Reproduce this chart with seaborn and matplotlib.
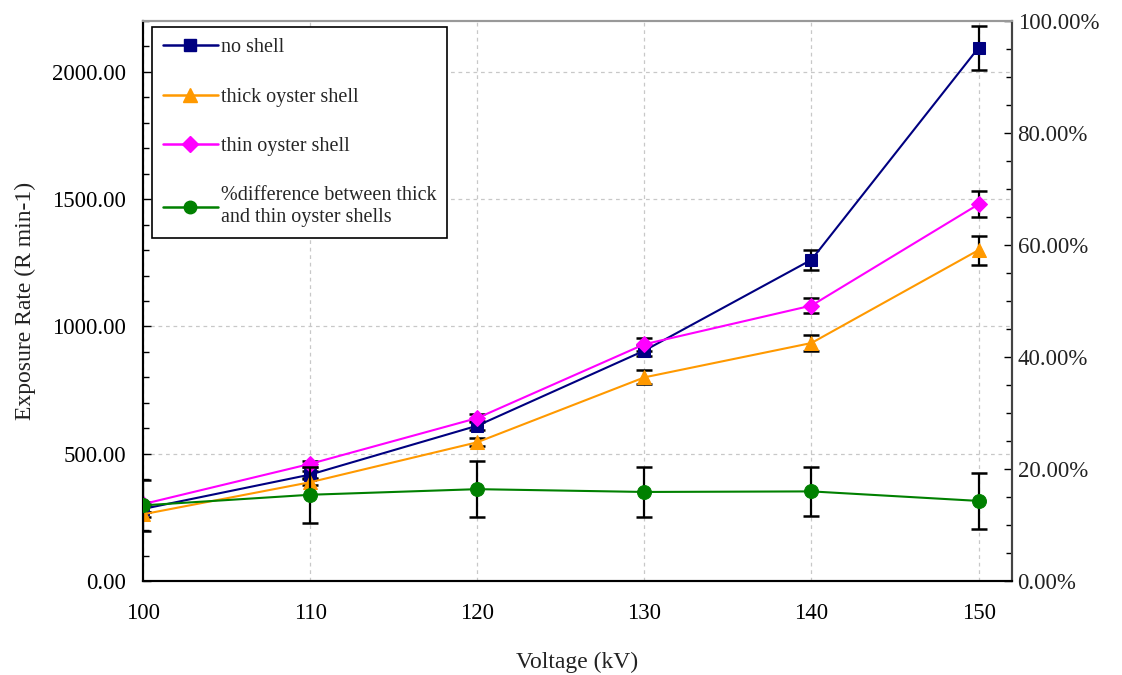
import matplotlib
matplotlib.use("Agg")
import matplotlib.pyplot as plt
import seaborn as sns
import pandas as pd
import numpy as np
from matplotlib.ticker import MultipleLocator, FuncFormatter

voltage = [100, 110, 120, 130, 140, 150]
no_shell = [283, 418, 610, 905, 1262, 2095]
no_shell_err = [10, 15, 18, 22, 40, 87]
thick_shell = [262, 388, 545, 800, 935, 1300]
thick_shell_err = [10, 12, 15, 28, 30, 57]
thin_shell = [302, 460, 640, 930, 1082, 1480]
thin_shell_err = [8, 12, 15, 25, 31, 51]
pct_diff = [0.135, 0.154, 0.164, 0.159, 0.160, 0.143]
pct_diff_err = [0.046, 0.050, 0.050, 0.044, 0.044, 0.050]

labels = ["no shell", "thick oyster shell", "thin oyster shell",
          "%difference between thick\nand thin oyster shells"]
colors = ["#000080", "#FF9900", "#FF00FF", "#008000"]
markers = ["s", "^", "D", "o"]

sns.set_theme(style="white")
plt.rcParams['font.family'] = ['Liberation Serif', 'DejaVu Serif']

fig = plt.figure(figsize=(11.22, 6.75), dpi=100)
ax = fig.add_axes([143/1122, 1-581/675, (1012-143)/1122, (581-21)/675])
ax2 = ax.twinx()

df = pd.DataFrame({"Voltage": voltage, "no": no_shell, "thick": thick_shell, "thin": thin_shell, "pct": pct_diff})

handles = []
for key, err, lab, col, mk, ms in [("no", no_shell_err, labels[0], colors[0], markers[0], 9),
                                   ("thick", thick_shell_err, labels[1], colors[1], markers[1], 10),
                                   ("thin", thin_shell_err, labels[2], colors[2], markers[2], 8)]:
    ax.errorbar(df["Voltage"], df[key], yerr=err, fmt="none", ecolor="black",
                elinewidth=1.6, capsize=6, capthick=1.8, zorder=2)
    sns.lineplot(data=df, x="Voltage", y=key, ax=ax, color=col, marker=mk,
                 markersize=ms, markeredgecolor=col, linewidth=1.5, zorder=3)
    handles.append(plt.Line2D([], [], color=col, marker=mk, markersize=ms,
                              markeredgecolor=col, linewidth=1.8, label=lab))

ax2.errorbar(df["Voltage"], df["pct"], yerr=pct_diff_err, fmt="none", ecolor="black",
             elinewidth=1.6, capsize=6, capthick=1.8, zorder=2)
sns.lineplot(data=df, x="Voltage", y="pct", ax=ax2, color=colors[3], marker=markers[3],
             markersize=10, markeredgecolor=colors[3], linewidth=1.5, zorder=3)
handles.append(plt.Line2D([], [], color=colors[3], marker=markers[3], markersize=9,
                          markeredgecolor=colors[3], linewidth=1.8, label=labels[3]))

ax.set_xlim(100, 152)
ax.set_ylim(0, 2200)
ax2.set_ylim(0, 1.0)

ax.xaxis.set_major_locator(MultipleLocator(10))
ax.xaxis.set_minor_locator(MultipleLocator(2))
ax.yaxis.set_major_locator(MultipleLocator(500))
ax.yaxis.set_minor_locator(MultipleLocator(100))
ax.yaxis.set_major_formatter(FuncFormatter(lambda v, p: f"{v:.2f}"))
ax2.yaxis.set_major_locator(MultipleLocator(0.2))
ax2.yaxis.set_minor_locator(MultipleLocator(0.05))
ax2.yaxis.set_major_formatter(FuncFormatter(lambda v, p: f"{v*100:.2f}%"))

ax.grid(True, which="major", linestyle=(0, (3, 3)), color="#c8c8c8", linewidth=0.9)
ax.set_axisbelow(True)

for a in (ax, ax2):
    a.tick_params(which="both", direction="in", colors="black", labelsize=16.5)
    a.tick_params(which="major", length=6, width=1)
    a.tick_params(which="minor", length=4, width=1)
ax.tick_params(axis="x", pad=16)
ax.tick_params(axis="y", pad=12)
ax2.tick_params(axis="y", pad=4, labelcolor="#222222")
ax2.tick_params(axis="y", which="both", right=True, left=False)
ax.tick_params(axis="y", which="both", right=False)
ax.tick_params(axis="x", which="both", top=False)

for a in (ax, ax2):
    a.spines["left"].set_color("black")
    a.spines["bottom"].set_color("black")
    a.spines["left"].set_linewidth(1.5)
    a.spines["bottom"].set_linewidth(1.5)
    a.spines["top"].set_color("#999999")
    a.spines["top"].set_linewidth(1.5)
    a.spines["right"].set_color("#444444")
    a.spines["right"].set_linewidth(1.5)

ax.set_xlabel("Voltage (kV)", fontsize=17, labelpad=20, color="#222222")
ax.set_ylabel("Exposure Rate (R min-1)", fontsize=17, labelpad=12, color="#222222")
ax2.set_ylabel("")

leg = ax2.legend(handles=handles, loc="upper left", bbox_to_anchor=(0.0105, 0.989),
                 frameon=True, fancybox=False, edgecolor="black", fontsize=14.5,
                 labelspacing=1.5, handlelength=2.7, handletextpad=0.15,
                 borderpad=0.55, borderaxespad=0.0)
leg.get_frame().set_linewidth(1.2)
leg.get_frame().set_alpha(1)

fig.savefig("out.png", dpi=100)
